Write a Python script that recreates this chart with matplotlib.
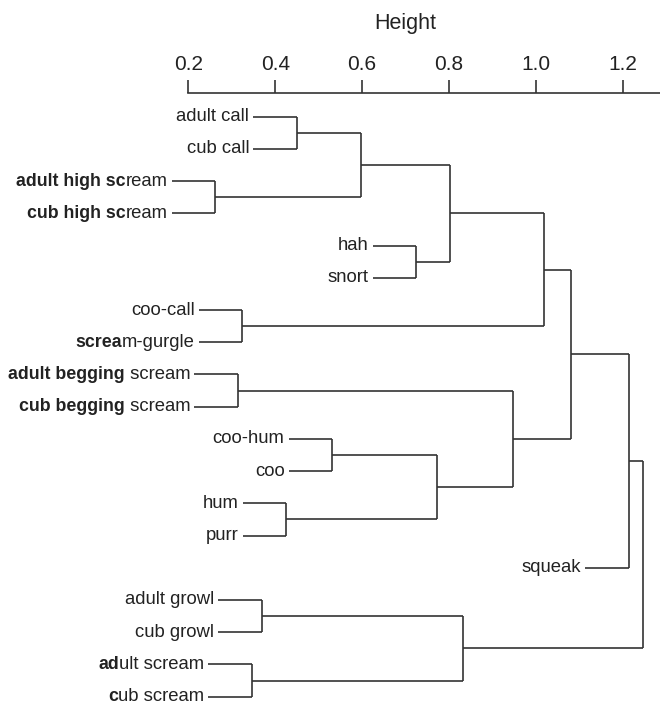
#Horizontal dendrogram of call types, leaves hung below their merge height
import matplotlib
matplotlib.use('Agg')
import matplotlib.pyplot as plt
import numpy as np

plt.rcParams['font.family'] = ['Liberation Sans', 'DejaVu Sans']

#Leaf labels from top to bottom, split into (bold part, plain part)
leaf_bold = ['', '', 'adult high sc', 'cub high sc', '', '', '', 'screa',
             'adult begging', 'cub begging', '', '', '', '', '', '', '', 'ad', 'c']
leaf_plain = ['adult call', 'cub call', 'ream', 'ream', 'hah', 'snort', 'coo-call',
              'm-gurgle', ' scream', ' scream', 'coo-hum', 'coo', 'hum', 'purr',
              'squeak', 'adult growl', 'cub growl', 'ult scream', 'ub scream']

#Merge table (R style: negative = leaf number, positive = earlier merge)
merge_left = [-3, -9, -7, -18, -16, -13, -1, -11, 7, -5, 8, 9, 5, 2, 12, 15, 16, 17]
merge_right = [-4, -10, -8, -19, -17, -14, -2, -12, 1, -6, 6, 10, 4, 11, 3, 14, -15, 13]
merge_height = [0.262, 0.314, 0.324, 0.346, 0.369, 0.426, 0.450, 0.531, 0.597,
                0.724, 0.772, 0.802, 0.832, 0.947, 1.019, 1.080, 1.214, 1.246]

hang = 0.1
line_col = '#333333'
text_col = '#222222'
lw = 1.2

fig = plt.figure(figsize=(6.6, 7.01), dpi=100)
ax = fig.add_axes([0, 0, 1, 1 - 93 / 701])

#Leaf order is the row order, so leaf k sits at row k-1
def node_pos(ref):
    if ref < 0:
        return -ref - 1
    return merge_mid[ref - 1]

merge_mid = []
for i in range(len(merge_height)):
    h = merge_height[i]
    refs = [merge_left[i], merge_right[i]]
    ys = []
    for r in refs:
        y = node_pos(r)
        ys.append(y)
        if r < 0:
            #hanging leaf branch
            ax.plot([h - hang, h], [y, y], color=line_col, lw=lw, solid_capstyle='butt')
        else:
            ax.plot([merge_height[r - 1], h], [y, y], color=line_col, lw=lw,
                    solid_capstyle='butt')
    ax.plot([h, h], ys, color=line_col, lw=lw, solid_capstyle='butt')
    merge_mid.append(np.mean(ys))

#Leaf labels, plain part right-aligned at the branch, bold part to its left
parent_height = {}
for i in range(len(merge_height)):
    for r in (merge_left[i], merge_right[i]):
        if r < 0:
            parent_height[-r - 1] = merge_height[i]

#baseline sits at this fraction of the plain text box ("lp" descent / height)
base_frac = 0.212 / (0.729 + 0.212)

for k in range(len(leaf_plain)):
    x0 = parent_height[k] - hang
    t = ax.annotate(leaf_plain[k], xy=(x0, k), xytext=(-3, 0), textcoords='offset points',
                    ha='right', va='center', fontsize=13.3, color=text_col,
                    annotation_clip=False)
    if leaf_bold[k]:
        ax.annotate(leaf_bold[k], xy=(0, base_frac), xycoords=t, ha='right',
                    va='baseline', fontsize=12.8, fontweight='bold', color=text_col)

#Axis on top with the height scale
ax.set_xlim(0.2 - 188.3 / 434.5, 0.2 + 471.7 / 434.5)
ax.set_ylim(18.135, -0.736)
for s in ['left', 'right', 'bottom']:
    ax.spines[s].set_visible(False)
ax.spines['top'].set_bounds(0.2, ax.get_xlim()[1])
ax.spines['top'].set_color(line_col)
ax.spines['top'].set_linewidth(lw)
ax.xaxis.tick_top()
ax.set_xticks([0.2, 0.4, 0.6, 0.8, 1.0, 1.2])
ax.set_xticklabels(['0.2', '0.4', '0.6', '0.8', '1.0', '1.2'])
ax.tick_params(axis='x', length=9.4, width=lw, color=line_col, pad=4,
               labelsize=15, labelcolor=text_col)
ax.set_yticks([])

fig.text(405.6 / 660, 1 - 24 / 701, 'Height', ha='center', va='center',
         fontsize=15.5, color=text_col)

fig.savefig('out.png', dpi=100)
